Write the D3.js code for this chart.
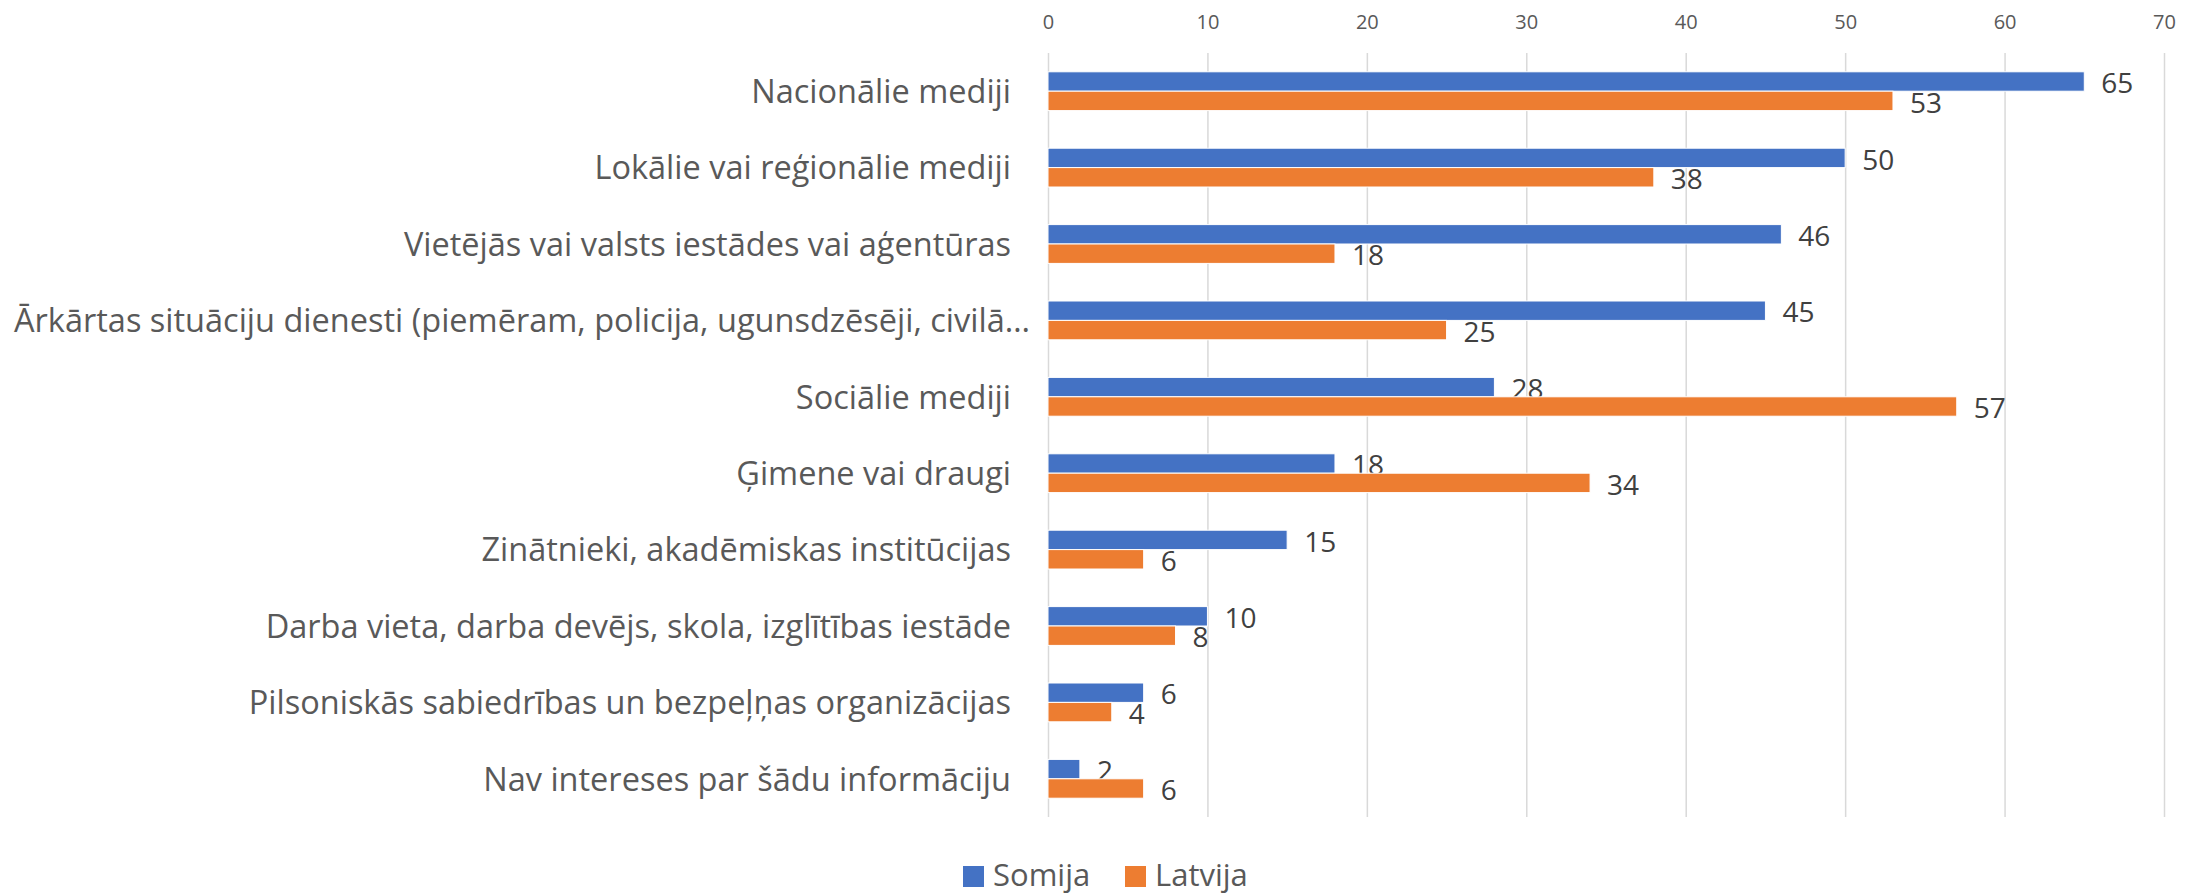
<!DOCTYPE html>
<html>
<head>
<meta charset="utf-8">
<script src="https://cdn.jsdelivr.net/npm/d3@7"></script>
<style>
  body { margin: 0; background: #fff; }
  text { font-family: "Open Sans", "Noto Sans", sans-serif; }
</style>
</head>
<body>
<script>
let categories = [
    'Nacionālie mediji',
    'Lokālie vai reģionālie mediji',
    'Vietējās vai valsts iestādes vai aģentūras',
    'Ārkārtas situāciju dienesti (piemēram, policija, ugunsdzēsēji, civilā…',
    'Sociālie mediji',
    'Ģimene vai draugi',
    'Zinātnieki, akadēmiskas institūcijas',
    'Darba vieta, darba devējs, skola, izglītības iestāde',
    'Pilsoniskās sabiedrības un bezpeļņas organizācijas',
    'Nav intereses par šādu informāciju'
];
let somija = [65, 50, 46, 45, 28, 18, 15, 10, 6, 2];
let latvija = [53, 38, 18, 25, 57, 34, 6, 8, 4, 6];
let seriesNames = ['Somija', 'Latvija'];
let tickValues = [0, 10, 20, 30, 40, 50, 60, 70];

let colors = ['#4472C4', '#ED7D31'];

//chart constants
let totalWidth = 2201;
let totalHeight = 896;
let plot = { left: 1048, right: 2164, top: 53, bottom: 817 };

let svg = d3.select('body')
    .append('svg')
    .attr('width', totalWidth)
    .attr('height', totalHeight);

let xScale = d3.scaleLinear()
    .domain([0, 70])
    .range([plot.left, plot.right]);

let yScale = d3.scaleBand()
    .domain(categories)
    .range([plot.top, plot.bottom]);

//two bars per category, sitting in the middle of the band
let barHeight = 19.4;
let sub = d3.scaleBand()
    .domain(seriesNames)
    .range([-barHeight, barHeight]);

//gridlines
svg.append('g')
    .attr('transform', `translate(0, ${plot.top})`)
    .call(d3.axisTop(xScale).tickValues(tickValues).tickSize(-(plot.bottom - plot.top)).tickFormat(''))
    .call(g => g.select('.domain').remove())
    .selectAll('line')
    .attr('stroke', '#D9D9D9')
    .attr('stroke-width', 1.5);

//tick labels along the top
svg.append('g')
    .attr('transform', `translate(0, ${plot.top})`)
    .call(d3.axisTop(xScale).tickValues(tickValues).tickSize(0).tickPadding(0))
    .call(g => g.select('.domain').remove())
    .selectAll('text')
    .attr('y', -23.7)
    .attr('dy', 0)
    .attr('fill', '#595959')
    .style('font-size', '20px')
    .style('font-family', '"Open Sans", sans-serif');

//category labels
let labels = svg.append('g')
    .selectAll('text')
    .data(categories)
    .enter()
    .append('text')
    .attr('x', plot.left - 37)
    .attr('y', d => yScale(d) + yScale.bandwidth() / 2)
    .attr('dy', '0.36em')
    .attr('text-anchor', 'end')
    .attr('fill', '#595959')
    .style('font-size', '32.5px')
    .text(d => d);

//keep long labels inside the page
labels.each(function(){
    let box = this.getBBox();
    if (box.x < 14) {
        d3.select(this).attr('text-anchor', 'start').attr('x', 14);
    }
});

let series = [somija, latvija];

for (let s=0; s<series.length; s++){
    let data = categories.map((c, i) => ({ cat: c, value: series[s][i] }));
    let center = d => yScale(d.cat) + yScale.bandwidth() / 2;

    svg.append('g')
        .selectAll('rect')
        .data(data)
        .enter()
        .append('rect')
        .attr('x', xScale(0))
        .attr('y', d => center(d) + sub(seriesNames[s]))
        .attr('width', d => xScale(d.value) - xScale(0))
        .attr('height', sub.bandwidth())
        .attr('fill', colors[s])
        .attr('stroke', '#fff')
        .attr('stroke-width', 1);

    svg.append('g')
        .selectAll('text')
        .data(data)
        .enter()
        .append('text')
        .attr('x', d => xScale(d.value) + 17)
        .attr('y', d => center(d) + sub(seriesNames[s]) + sub.bandwidth() / 2)
        .attr('dy', '0.42em')
        .attr('fill', '#404040')
        .style('font-size', '28px')
        .text(d => d.value);
}

//legend
let legendX = [963, 1125];
let legend = svg.append('g')
    .selectAll('g')
    .data(seriesNames)
    .enter()
    .append('g')
    .attr('transform', (d, i) => `translate(${legendX[i]}, 866)`);

legend.append('rect')
    .attr('width', 21)
    .attr('height', 21)
    .attr('fill', (d, i) => colors[i]);

legend.append('text')
    .attr('x', 30)
    .attr('y', 20)
    .attr('fill', '#595959')
    .style('font-size', '31px')
    .text(d => d);
</script>
</body>
</html>
